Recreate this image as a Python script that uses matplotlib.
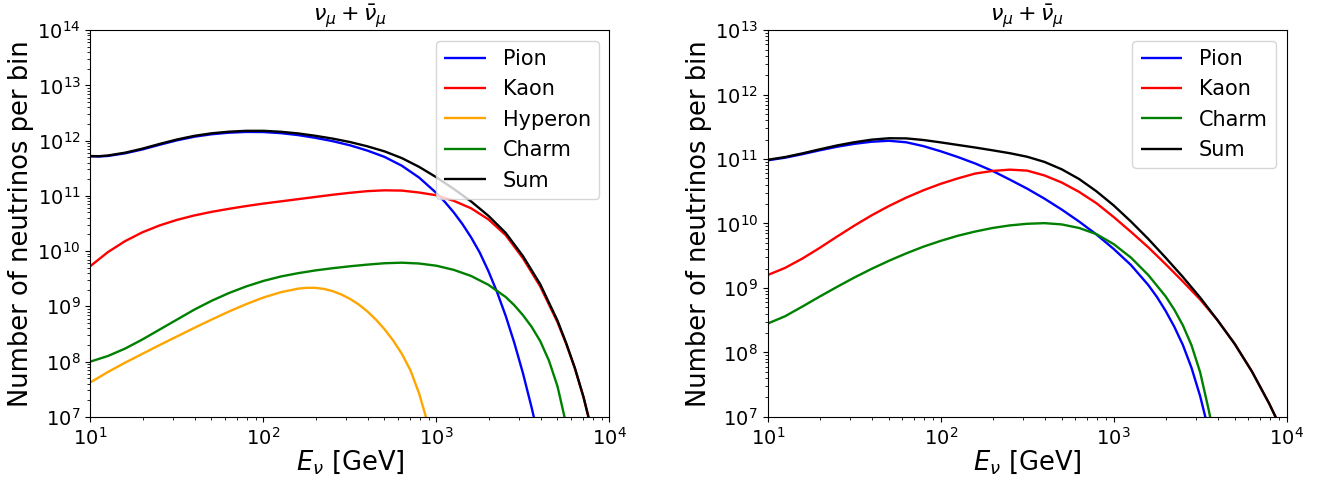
import numpy as np
import matplotlib
matplotlib.use("Agg")
import matplotlib.pyplot as plt

# values, stored as log10(E/GeV) and log10(N)

# ---- left panel ----
pion_L_x = [1.0, 1.05, 1.1, 1.2, 1.3, 1.4, 1.5, 1.6, 1.7, 1.8, 1.9, 2.0, 2.1, 2.2, 2.3, 2.4, 2.5,
            2.6, 2.7, 2.8, 2.9, 3.0, 3.05, 3.1, 3.15, 3.2, 3.25, 3.3, 3.35, 3.4, 3.45, 3.5, 3.55, 3.6]
pion_L_y = [11.716, 11.712, 11.722, 11.77, 11.84, 11.925, 12.005, 12.07, 12.115, 12.143, 12.157,
            12.155, 12.135, 12.1, 12.05, 11.99, 11.915, 11.82, 11.705, 11.545, 11.33, 11.05, 10.885,
            10.7, 10.49, 10.25, 9.975, 9.64, 9.26, 8.83, 8.34, 7.79, 7.17, 6.5]

kaon_L_x = [1.0, 1.1, 1.2, 1.3, 1.4, 1.5, 1.6, 1.7, 1.8, 1.9, 2.0, 2.1, 2.2, 2.3, 2.4, 2.5, 2.6,
            2.7, 2.8, 2.9, 3.0, 3.1, 3.2, 3.3, 3.4, 3.5, 3.6, 3.7, 3.75, 3.8, 3.85, 3.9]
kaon_L_y = [9.73, 9.98, 10.18, 10.34, 10.465, 10.565, 10.645, 10.71, 10.765, 10.815, 10.86, 10.9,
            10.94, 10.98, 11.02, 11.055, 11.085, 11.1, 11.095, 11.06, 11.01, 10.91, 10.775, 10.575,
            10.29, 9.87, 9.36, 8.71, 8.32, 7.88, 7.355, 6.73]

hyperon_L_x = [1.0, 1.1, 1.2, 1.3, 1.4, 1.5, 1.6, 1.7, 1.8, 1.9, 2.0, 2.1, 2.2, 2.25, 2.3, 2.35,
               2.4, 2.45, 2.5, 2.55, 2.6, 2.65, 2.7, 2.75, 2.8, 2.85, 2.9, 2.95]
hyperon_L_y = [7.624, 7.81, 7.98, 8.14, 8.3, 8.455, 8.61, 8.76, 8.905, 9.04, 9.16, 9.255, 9.32,
               9.335, 9.335, 9.315, 9.275, 9.215, 9.135, 9.035, 8.91, 8.76, 8.585, 8.38, 8.14,
               7.84, 7.42, 6.88]

charm_L_x = [1.0, 1.1, 1.2, 1.3, 1.4, 1.5, 1.6, 1.7, 1.8, 1.9, 2.0, 2.1, 2.2, 2.3, 2.4, 2.5, 2.6,
             2.7, 2.8, 2.9, 3.0, 3.1, 3.2, 3.3, 3.4, 3.45, 3.5, 3.55, 3.6, 3.65, 3.7, 3.74, 3.76]
charm_L_y = [8.0, 8.1, 8.235, 8.4, 8.58, 8.76, 8.94, 9.1, 9.24, 9.36, 9.46, 9.54, 9.6, 9.65, 9.69,
             9.725, 9.755, 9.78, 9.79, 9.775, 9.735, 9.66, 9.55, 9.39, 9.17, 9.02, 8.84, 8.63, 8.37,
             8.02, 7.55, 7.0, 6.7]

sum_L_x = [1.0, 1.05, 1.1, 1.2, 1.3, 1.4, 1.5, 1.6, 1.7, 1.8, 1.9, 2.0, 2.1, 2.2, 2.3, 2.4, 2.5,
           2.6, 2.7, 2.8, 2.9, 3.0, 3.1, 3.2, 3.3, 3.4, 3.5, 3.6, 3.7, 3.75, 3.8, 3.85, 3.9]
sum_L_y = [11.72, 11.718, 11.73, 11.781, 11.854, 11.94, 12.02, 12.086, 12.132, 12.161, 12.177,
           12.177, 12.16, 12.13, 12.087, 12.036, 11.974, 11.897, 11.805, 11.683, 11.524, 11.335,
           11.125, 10.9, 10.64, 10.33, 9.91, 9.40, 8.74, 8.335, 7.885, 7.36, 6.73]

# ---- right panel ----
pion_R_x = [1.0, 1.1, 1.2, 1.3, 1.4, 1.5, 1.6, 1.7, 1.8, 1.9, 2.0, 2.1, 2.2, 2.3, 2.4, 2.5, 2.6,
            2.7, 2.8, 2.9, 3.0, 3.1, 3.2, 3.25, 3.3, 3.35, 3.4, 3.45, 3.5, 3.55]
pion_R_y = [10.98, 11.02, 11.075, 11.135, 11.19, 11.235, 11.268, 11.283, 11.26, 11.2, 11.12, 11.03,
            10.93, 10.815, 10.68, 10.54, 10.385, 10.215, 10.03, 9.83, 9.605, 9.355, 9.045, 8.86,
            8.645, 8.4, 8.115, 7.76, 7.32, 6.78]

kaon_R_x = [1.0, 1.1, 1.2, 1.3, 1.4, 1.5, 1.6, 1.7, 1.8, 1.9, 2.0, 2.1, 2.2, 2.3, 2.4, 2.5, 2.6,
            2.7, 2.8, 2.9, 3.0, 3.1, 3.2, 3.3, 3.4, 3.5, 3.6, 3.7, 3.8, 3.9, 3.95]
kaon_R_y = [9.2, 9.31, 9.455, 9.62, 9.795, 9.965, 10.125, 10.27, 10.4, 10.515, 10.615, 10.7,
            10.775, 10.815, 10.835, 10.82, 10.745, 10.635, 10.49, 10.315, 10.1, 9.87, 9.63, 9.37,
            9.1, 8.82, 8.5, 8.13, 7.7, 7.2, 6.92]

charm_R_x = [1.0, 1.1, 1.2, 1.3, 1.4, 1.5, 1.6, 1.7, 1.8, 1.9, 2.0, 2.1, 2.2, 2.3, 2.4, 2.5, 2.6,
             2.7, 2.8, 2.9, 3.0, 3.1, 3.2, 3.3, 3.35, 3.4, 3.45, 3.5, 3.55, 3.58]
charm_R_y = [8.447, 8.56, 8.71, 8.865, 9.015, 9.16, 9.295, 9.42, 9.535, 9.64, 9.73, 9.81, 9.875,
             9.93, 9.97, 9.995, 10.005, 9.985, 9.93, 9.835, 9.68, 9.47, 9.2, 8.87, 8.665, 8.42,
             8.11, 7.69, 7.1, 6.7]

sum_R_x = [1.0, 1.1, 1.2, 1.3, 1.4, 1.5, 1.6, 1.7, 1.8, 1.9, 2.0, 2.1, 2.2, 2.3, 2.4, 2.5, 2.6,
           2.7, 2.8, 2.9, 3.0, 3.1, 3.2, 3.3, 3.4, 3.5, 3.6, 3.7, 3.8, 3.9, 3.95]
sum_R_y = [10.988, 11.03, 11.087, 11.15, 11.21, 11.26, 11.3, 11.322, 11.32, 11.295, 11.258, 11.218,
           11.178, 11.135, 11.09, 11.035, 10.955, 10.84, 10.69, 10.5, 10.28, 10.03, 9.76, 9.47,
           9.17, 8.85, 8.5, 8.13, 7.7, 7.2, 6.92]

colors = {"Pion": "blue", "Kaon": "red", "Hyperon": "orange", "Charm": "green", "Sum": "black"}

left_series = [("Pion", pion_L_x, pion_L_y), ("Kaon", kaon_L_x, kaon_L_y),
               ("Hyperon", hyperon_L_x, hyperon_L_y), ("Charm", charm_L_x, charm_L_y),
               ("Sum", sum_L_x, sum_L_y)]
right_series = [("Pion", pion_R_x, pion_R_y), ("Kaon", kaon_R_x, kaon_R_y),
                ("Charm", charm_R_x, charm_R_y), ("Sum", sum_R_x, sum_R_y)]

fig, axes = plt.subplots(1, 2, figsize=(13.21, 4.78), dpi=100)
plt.subplots_adjust(left=0.0685, right=0.974, bottom=0.128, top=0.937, wspace=0.305)

for ax, series, ytop in [(axes[0], left_series, 1e14), (axes[1], right_series, 1e13)]:
    for name, lx, ly in series:
        ax.plot(10 ** np.array(lx), 10 ** np.array(ly), color=colors[name], lw=1.7,
                label=name, solid_capstyle="butt")
    ax.set_xscale("log")
    ax.set_yscale("log")
    ax.set_xlim(10, 1e4)
    ax.set_ylim(1e7, ytop)
    ax.set_xlabel(r"$E_\nu$ [GeV]", fontsize=18.5, labelpad=0)
    ax.set_ylabel("Number of neutrinos per bin", fontsize=18.5, labelpad=2)
    ax.set_title(r"$\nu_\mu + \bar{\nu}_\mu$", fontsize=16, pad=1)
    ax.tick_params(labelsize=14)
    ax.legend(loc="upper right", fontsize=15)

plt.savefig("out.png", dpi=100)
